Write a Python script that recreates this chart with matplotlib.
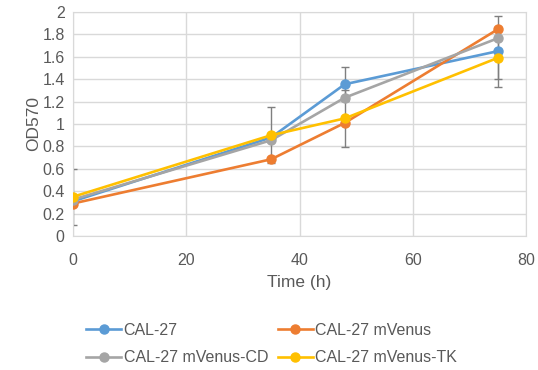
import matplotlib.pyplot as plt

plt.rcParams['font.family'] = ['Liberation Sans', 'DejaVu Sans']

# data
times = [0, 35, 48, 75]
series_names = ["CAL-27", "CAL-27 mVenus", "CAL-27 mVenus-CD", "CAL-27 mVenus-TK"]
cal27 = [0.31, 0.88, 1.355, 1.65]
cal27_mvenus = [0.29, 0.685, 1.01, 1.845]
cal27_mvenus_cd = [0.325, 0.855, 1.235, 1.765]
cal27_mvenus_tk = [0.35, 0.90, 1.05, 1.59]
cal27_err = [0.02, 0.03, 0.15, 0.317]
cal27_mvenus_tk_err = [0.25, 0.25, 0.253, 0.19]

colors = ["#5B9BD5", "#ED7D31", "#A5A5A5", "#FFC000"]
text_color = "#595959"
grid_color = "#D9D9D9"

fig = plt.figure(figsize=(5.38, 3.70), dpi=100)
ax = fig.add_axes([0.1357, 0.3622, 0.842, 0.6054])

all_values = [cal27, cal27_mvenus, cal27_mvenus_cd, cal27_mvenus_tk]
handles = []
for name, vals, c in zip(series_names, all_values, colors):
    h, = ax.plot(times, vals, color=c, lw=1.9, marker='o', markersize=6.5,
                 label=name, zorder=3)
    handles.append(h)

# error bars (only visible ones)
ax.errorbar(times, cal27, yerr=cal27_err, fmt='none', ecolor="#7F7F7F",
            elinewidth=1.0, capsize=3, capthick=1.0, zorder=2)
ax.errorbar(times, cal27_mvenus_tk, yerr=cal27_mvenus_tk_err, fmt='none',
            ecolor="#7F7F7F", elinewidth=1.0, capsize=3, capthick=1.0, zorder=2)

ax.set_xlim(0, 80)
ax.set_ylim(0, 2)
ax.set_xticks([0, 20, 40, 60, 80])
ax.set_yticks([0, 0.2, 0.4, 0.6, 0.8, 1, 1.2, 1.4, 1.6, 1.8, 2])
ax.set_yticklabels(["0", "0.2", "0.4", "0.6", "0.8", "1", "1.2", "1.4", "1.6", "1.8", "2"])
ax.grid(True, color=grid_color, lw=1)
ax.set_axisbelow(True)
for s in ax.spines.values():
    s.set_color(grid_color)
ax.tick_params(length=0, colors=text_color, labelsize=11.5)
ax.tick_params(axis='x', pad=12)
ax.tick_params(axis='y', pad=6)

ax.set_xlabel("Time (h)", color=text_color, fontsize=12.5, labelpad=5)
ax.set_ylabel("OD570", color=text_color, fontsize=12.5, labelpad=1)

order = [0, 2, 1, 3]
leg = fig.legend([handles[i] for i in order], [series_names[i] for i in order],
                 ncol=2, loc='center', bbox_to_anchor=(0.505, 0.07),
                 frameon=False, fontsize=11.5, handlelength=2.2,
                 handletextpad=0.15, columnspacing=0.6, labelspacing=0.8)
for t in leg.get_texts():
    t.set_color(text_color)

fig.savefig("out.png", dpi=100)
